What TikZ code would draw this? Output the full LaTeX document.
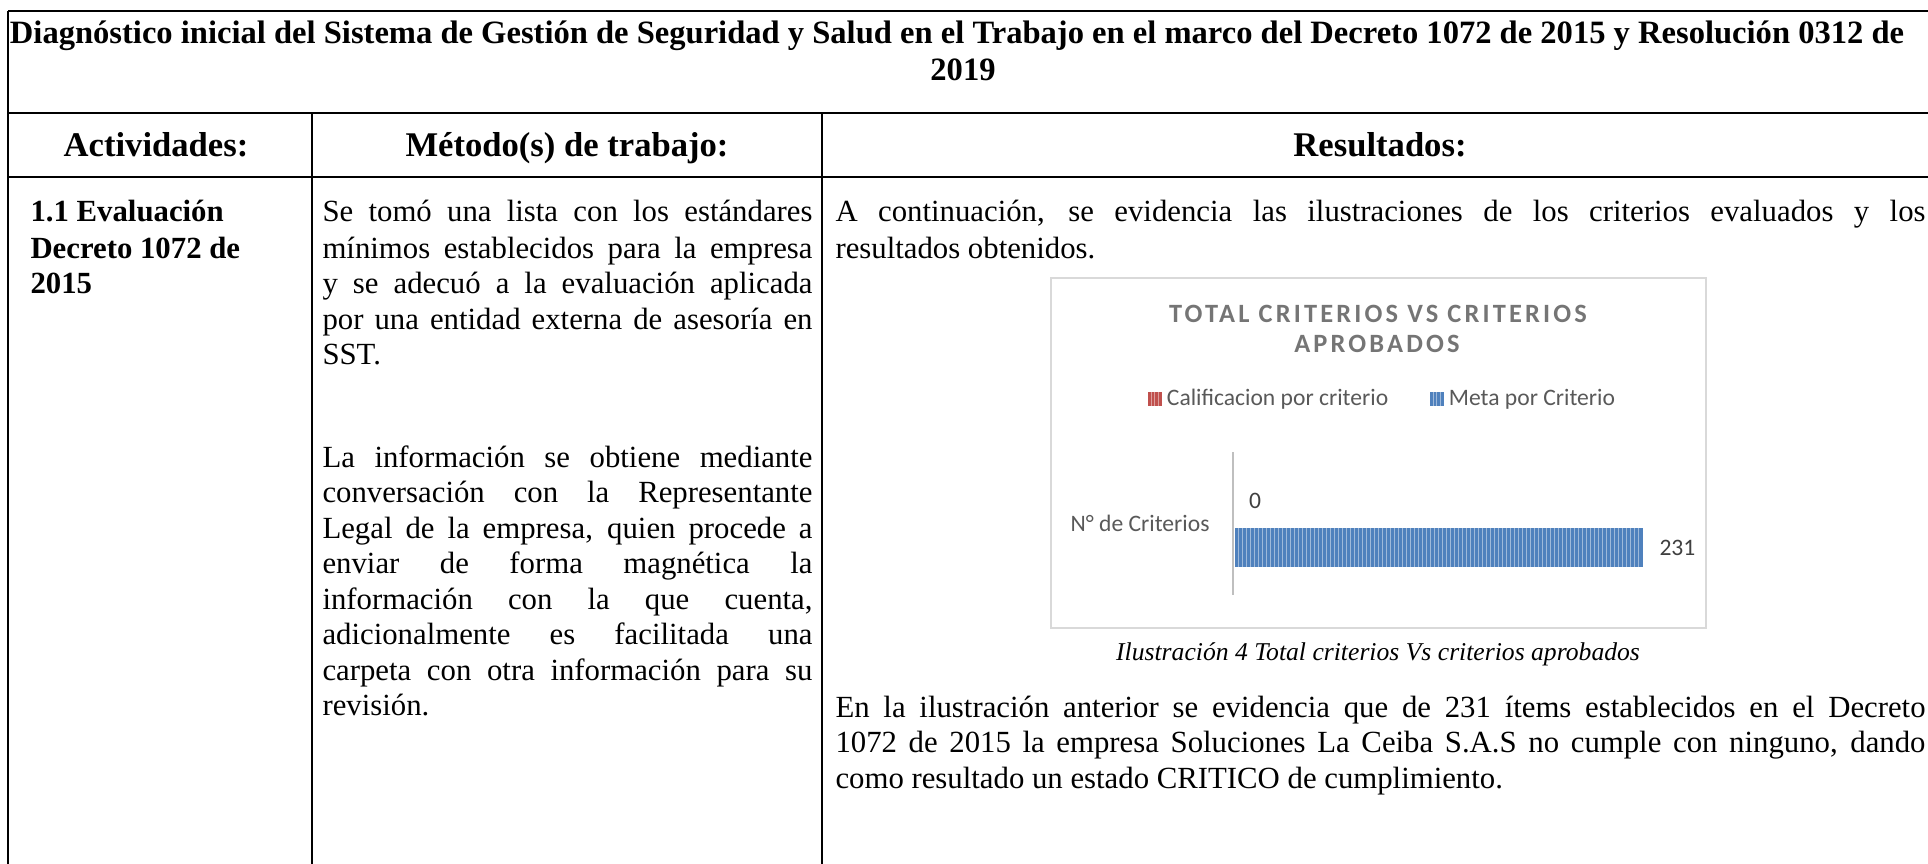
\documentclass[tikz,border=0pt]{standalone}
\usepackage{fontspec}
\setmainfont{Liberation Serif}
\newfontfamily\chartfont{Carlito}
\newfontfamily\charttitlefont[LetterSpace=12]{Carlito}
\usetikzlibrary{positioning}

\definecolor{boxgray}{HTML}{D9D9D9}
\definecolor{axisgray}{HTML}{BFBFBF}
\definecolor{titlegray}{HTML}{757575}
\definecolor{legendgray}{HTML}{595959}
\definecolor{labelgray}{HTML}{404040}
\definecolor{barblue}{HTML}{4F81BD}
\definecolor{barred}{HTML}{C0504D}

% justified line of a given width
\newcommand{\jline}[2]{\makebox[#1][s]{#2}}

\begin{document}
\begin{tikzpicture}[x=0.39pt,y=-0.39pt]
\begin{scope}
\tikzstyle{grid} = [line width=0.66pt]
\tikzstyle{title} = [inner sep=0pt,anchor=base,font=\fontsize{12.7}{14.6}\selectfont\bfseries]
\tikzstyle{head} = [inner sep=0pt,anchor=base,font=\fontsize{13.5}{15.5}\selectfont\bfseries]
\tikzstyle{txt} = [inner sep=0pt,anchor=base west,font=\fontsize{12}{14}\selectfont]
\tikzstyle{act} = [txt,font=\fontsize{12}{14}\selectfont\bfseries]
\tikzstyle{chartbox} = [draw=boxgray,line width=0.6pt]
\tikzstyle{ctitle} = [inner sep=0pt,anchor=base,text=titlegray,font=\charttitlefont\fontsize{10.3}{12}\selectfont\bfseries]
\tikzstyle{legend} = [inner sep=0pt,text=legendgray,font=\chartfont\fontsize{9.2}{11}\selectfont]
\tikzstyle{datalab} = [legend,text=labelgray]
\tikzstyle{swatch} = [rectangle,inner sep=0pt,minimum size=5.5pt]
\tikzstyle{stripe} = [white,opacity=0.45,line width=0.35pt]
\tikzstyle{caption} = [inner sep=0pt,anchor=base,font=\fontsize{10}{12}\selectfont\itshape]

\fill [white] (0,0) rectangle (1928,864);
\useasboundingbox (0,0) rectangle (1928,864);

%table
\draw [grid] (8,11) -- (1940,11);
\draw [grid] (8,113) -- (1940,113);
\draw [grid] (8,177) -- (1940,177);
\draw [grid] (8,11) -- (8,870);
\draw [grid] (312,113) -- (312,870);
\draw [grid] (822,113) -- (822,870);

\node [title] (t1) at (957,44) {Diagnóstico inicial del Sistema de Gestión de Seguridad y Salud en el Trabajo en el marco del Decreto 1072 de 2015 y Resolución 0312 de};
\node [title] (t2) at (963,81) {2019};

\node [head] (h1) at (156,157) {Actividades:};
\node [head] (h2) at (567,157) {Método(s) de trabajo:};
\node [head] (h3) at (1380,157) {Resultados:};

%activities
\node [act] (a1) at (30,222) {1.1 Evaluación};
\node [act] (a2) at (30,258) {Decreto 1072 de};
\node [act] (a3) at (30,293) {2015};

%method
\node [txt] (m1) at (322,222) {\jline{191.1pt}{Se tomó una lista con los estándares}};
\node [txt] (m2) at (322,258) {\jline{191.1pt}{mínimos establecidos para la empresa}};
\node [txt] (m3) at (322,293) {\jline{191.1pt}{y se adecuó a la evaluación aplicada}};
\node [txt] (m4) at (322,329) {\jline{191.1pt}{por una entidad externa de asesoría en}};
\node [txt] (m5) at (322,364) {SST.};
\node [txt] (m6) at (322,467) {\jline{191.1pt}{La información se obtiene mediante}};
\node [txt] (m7) at (322,502) {\jline{191.1pt}{conversación con la Representante}};
\node [txt] (m8) at (322,538) {\jline{191.1pt}{Legal de la empresa, quien procede a}};
\node [txt] (m9) at (322,573) {\jline{191.1pt}{enviar de forma magnética la}};
\node [txt] (m10) at (322,609) {\jline{191.1pt}{información con la que cuenta,}};
\node [txt] (m11) at (322,644) {\jline{191.1pt}{adicionalmente es facilitada una}};
\node [txt] (m12) at (322,680) {\jline{191.1pt}{carpeta con otra información para su}};
\node [txt] (m13) at (322,715) {revisión.};

%results
\node [txt] (r1) at (835,222) {\jline{425.1pt}{A continuación, se evidencia las ilustraciones de los criterios evaluados y los}};
\node [txt] (r2) at (835,258) {resultados obtenidos.};
\node [txt] (r3) at (835,717) {\jline{425.1pt}{En la ilustración anterior se evidencia que de 231 ítems establecidos en el Decreto}};
\node [txt] (r4) at (835,752) {\jline{425.1pt}{1072 de 2015 la empresa Soluciones La Ceiba S.A.S no cumple con ninguno, dando}};
\node [txt] (r5) at (835,788) {como resultado un estado CRITICO de cumplimiento.};

%chart
\draw [chartbox] (1051,278) rectangle (1706,628);
\node [ctitle] (c1) at (1378,322) {TOTAL CRITERIOS VS CRITERIOS};
\node [ctitle] (c2) at (1377,352) {APROBADOS};

\node [swatch,fill=barred] (sw1) at (1155,399) {};
\node [legend,anchor=west] (l1) at ([xshift=1.5pt]sw1.east) {Calificacion por criterio};
\node [swatch,fill=barblue] (sw2) at (1437,399) {};
\node [legend,anchor=west] (l2) at ([xshift=1.5pt]sw2.east) {Meta por Criterio};
\foreach \i in {1,2,3}
{
\draw [stripe] ([xshift=\i*1.37pt]sw1.north west) -- ([xshift=\i*1.37pt]sw1.south west);
\draw [stripe] ([xshift=\i*1.37pt]sw2.north west) -- ([xshift=\i*1.37pt]sw2.south west);
}

\coordinate (bar0) at (1235,528);
\coordinate (bar1) at (1643,567);
\fill [barblue] (bar0) rectangle (bar1);
\foreach \x in {1238,1242,...,1640}
\draw [stripe] (\x,528) -- (\x,567);
\draw [axisgray,line width=1pt] (1233,452) -- (1233,595);

\node [legend,anchor=east] (cat) at (1210,523) {N° de Criterios};
\node [datalab] (v0) at (1255,501) {0};
\node [datalab,anchor=west] (v1) at (1659,548) {231};

\node [caption] (cap) at (1378,660) {Ilustración 4 Total criterios Vs criterios aprobados};
\end{scope}
\end{tikzpicture}
\end{document}
